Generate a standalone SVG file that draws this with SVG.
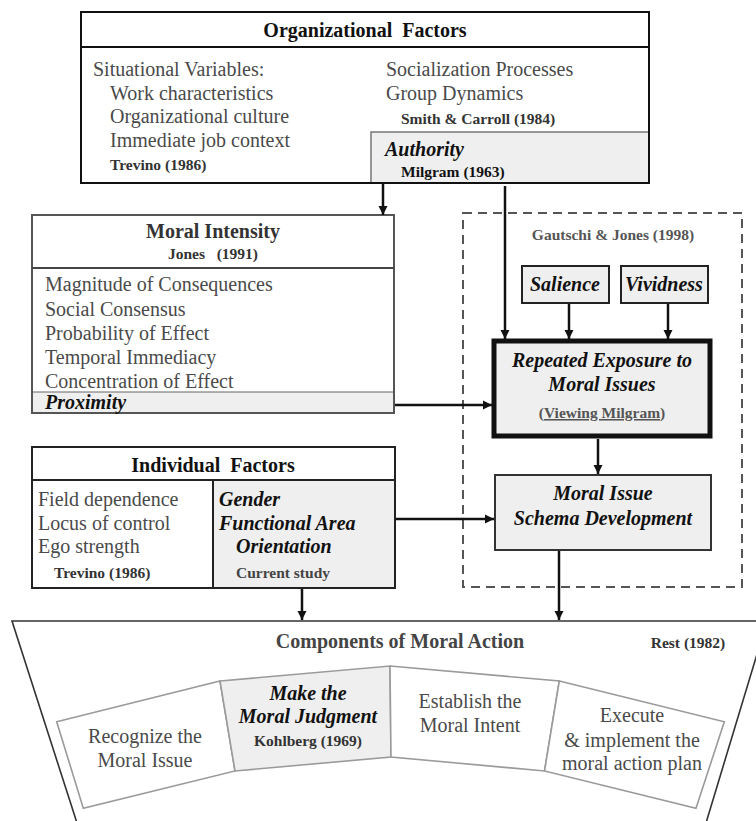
<svg xmlns="http://www.w3.org/2000/svg" width="756" height="821" viewBox="0 0 756 821" font-family="'Liberation Serif', 'DejaVu Serif', 'Times New Roman', serif">
<defs>
<style>
text{font-family:'Liberation Serif','DejaVu Serif','Times New Roman',serif;}
.body{font-size:20px;fill:#4a4a4a;}
.cite{font-size:15.5px;font-weight:bold;fill:#333;}
.title{font-size:20px;font-weight:bold;fill:#111;white-space:pre;}
.bi{font-size:20px;font-weight:bold;font-style:italic;fill:#111;}
.mid{text-anchor:middle;}
.gray{fill:#efefef;}
.conn{stroke:#111;stroke-width:2.5;fill:none;marker-end:url(#ah);}
.panel{stroke:#9a9a9a;stroke-width:1.6;fill:#fff;}
</style>
<marker id="ah" markerUnits="userSpaceOnUse" markerWidth="10" markerHeight="10" refX="9" refY="5" orient="auto">
<path d="M0,0.5 L9,5 L0,9.5 z" fill="#111"/>
</marker>
</defs>
<rect width="756" height="821" fill="#fff"/>

<g id="organizational-factors">
<rect x="81" y="12" width="568" height="171" fill="#fff"/>
<rect x="371" y="132" width="278" height="51" class="gray" stroke="#777" stroke-width="1.5"/>
<rect x="81" y="12" width="568" height="171" fill="none" stroke="#111" stroke-width="2"/>
<line x1="81" y1="47" x2="649" y2="47" stroke="#111" stroke-width="2"/>
<text x="365" y="37" class="title mid" font-size="21">Organizational  Factors</text>
<text x="93" y="76" class="body">Situational Variables:</text>
<text x="110" y="100" class="body">Work characteristics</text>
<text x="110" y="123" class="body">Organizational culture</text>
<text x="110" y="147" class="body">Immediate job context</text>
<text x="110" y="170" class="cite">Trevino (1986)</text>
<text x="386" y="76" class="body">Socialization Processes</text>
<text x="386" y="100" class="body">Group Dynamics</text>
<text x="401" y="124" class="cite">Smith &amp; Carroll (1984)</text>
<text x="385" y="156" class="bi">Authority</text>
<text x="401" y="177" class="cite" style="fill:#111">Milgram (1963)</text>
</g>

<g id="moral-intensity">
<rect x="32" y="215" width="362" height="198" fill="#fff"/>
<rect x="32" y="392" width="362" height="21" class="gray"/>
<line x1="32" y1="392" x2="394" y2="392" stroke="#666" stroke-width="1.2"/>
<rect x="32" y="215" width="362" height="198" fill="none" stroke="#555" stroke-width="2"/>
<line x1="32" y1="268" x2="394" y2="268" stroke="#444" stroke-width="2"/>
<text x="213" y="238" class="title mid" style="fill:#333">Moral Intensity</text>
<text x="213" y="259" class="cite mid" style="white-space:pre">Jones   (1991)</text>
<text x="45" y="291" class="body">Magnitude of Consequences</text>
<text x="45" y="316" class="body">Social Consensus</text>
<text x="45" y="340" class="body">Probability of Effect</text>
<text x="45" y="364" class="body">Temporal Immediacy</text>
<text x="45" y="388" class="body">Concentration of Effect</text>
<text x="45" y="409" class="bi">Proximity</text>
</g>

<g id="gautschi-jones">
<rect x="463" y="213" width="279" height="374" fill="none" stroke="#555" stroke-width="2" stroke-dasharray="9,6"/>
<text x="613" y="240" class="cite mid" style="fill:#555">Gautschi &amp; Jones (1998)</text>
</g>

<g id="salience">
<rect x="522" y="266" width="87" height="37" class="gray" stroke="#222" stroke-width="2"/>
<text x="565" y="291" class="bi mid">Salience</text>
</g>

<g id="vividness">
<rect x="621" y="266" width="87" height="37" class="gray" stroke="#222" stroke-width="2"/>
<text x="664" y="291" class="bi mid">Vividness</text>
</g>

<g id="repeated-exposure">
<rect x="494" y="341" width="216" height="95" class="gray" stroke="#111" stroke-width="5"/>
<text x="602" y="367" class="bi mid">Repeated Exposure to</text>
<text x="602" y="391" class="bi mid">Moral Issues</text>
<text x="602" y="418" class="cite mid" style="fill:#555">(<tspan text-decoration="underline">Viewing Milgram</tspan>)</text>
</g>

<g id="schema-development">
<rect x="495" y="475" width="216" height="75" class="gray" stroke="#333" stroke-width="2"/>
<text x="603" y="500" class="bi mid">Moral Issue</text>
<text x="603" y="525" class="bi mid">Schema Development</text>
</g>

<g id="individual-factors">
<rect x="32" y="447" width="363" height="141" fill="#fff"/>
<rect x="213" y="480" width="182" height="108" class="gray"/>
<rect x="32" y="447" width="363" height="141" fill="none" stroke="#222" stroke-width="2"/>
<line x1="32" y1="480" x2="395" y2="480" stroke="#222" stroke-width="2"/>
<line x1="213" y1="480" x2="213" y2="588" stroke="#222" stroke-width="2"/>
<text x="213" y="472" class="title mid">Individual  Factors</text>
<text x="38" y="506" class="body">Field dependence</text>
<text x="38" y="530" class="body">Locus of control</text>
<text x="38" y="553" class="body">Ego strength</text>
<text x="54" y="578" class="cite">Trevino (1986)</text>
<text x="219" y="506" class="bi">Gender</text>
<text x="219" y="530" class="bi">Functional Area</text>
<text x="236" y="553" class="bi">Orientation</text>
<text x="236" y="578" class="cite" style="fill:#444">Current study</text>
</g>

<g id="components-of-moral-action">
<polyline points="77,823 12,621 767,621 706,823" fill="none" stroke="#333" stroke-width="1.6"/>
<text x="400" y="648" class="title mid" style="fill:#444">Components of Moral Action</text>
<text x="688" y="648" class="cite mid">Rest (1982)</text>
</g>

<g id="recognize">
<polygon points="56.7,721.7 220,681 235,771 83.3,808.3" class="panel"/>
<text x="145" y="743" class="body mid">Recognize the</text>
<text x="145" y="767" class="body mid">Moral Issue</text>
</g>

<g id="judgment">
<polygon points="220,681 390,666 391,757 235,771" class="panel" style="fill:#efefef"/>
<text x="308" y="700" class="bi mid">Make the</text>
<text x="308" y="723" class="bi mid">Moral Judgment</text>
<text x="308" y="746" class="cite mid">Kohlberg (1969)</text>
</g>

<g id="intent">
<polygon points="390,666 559.3,681 544.5,771 391,757" class="panel"/>
<text x="470" y="708" class="body mid">Establish the</text>
<text x="470" y="732" class="body mid">Moral Intent</text>
</g>

<g id="execute">
<polygon points="559.3,681 724.3,721.7 696,808.3 544.5,771" class="panel"/>
<text x="632" y="722" class="body mid">Execute</text>
<text x="632" y="747" class="body mid">&amp; implement the</text>
<text x="632" y="770" class="body mid">moral action plan</text>
</g>

<g id="connectors">
<line x1="383" y1="184" x2="383" y2="215" class="conn"/>
<line x1="505" y1="186" x2="505" y2="339" class="conn"/>
<line x1="569" y1="304" x2="569" y2="339" class="conn"/>
<line x1="668" y1="304" x2="668" y2="339" class="conn"/>
<line x1="395" y1="405" x2="492" y2="405" class="conn"/>
<line x1="598" y1="439" x2="598" y2="474" class="conn"/>
<line x1="396" y1="519" x2="494" y2="519" class="conn"/>
<line x1="302" y1="589" x2="302" y2="620" class="conn"/>
<line x1="559" y1="551" x2="559" y2="620" class="conn"/>
</g>
</svg>
